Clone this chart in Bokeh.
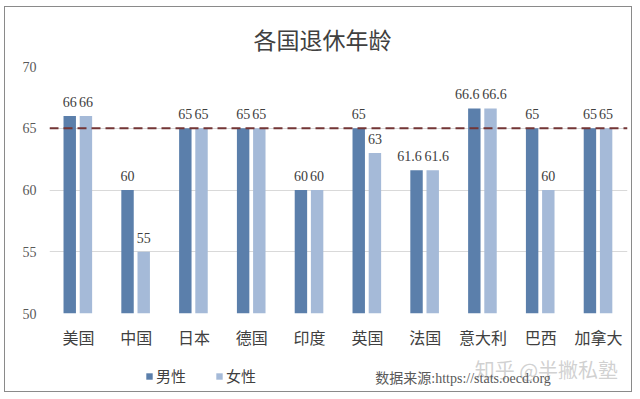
from bokeh.plotting import figure
from bokeh.layouts import column
from bokeh.models import (FactorRange, Range1d, ColumnDataSource, Span, Label, Legend,
                          LegendItem, FixedTicker)
from bokeh.transform import dodge
from bokeh.core.properties import value
from bokeh.embed import file_html
from bokeh.resources import INLINE

countries = ["美国", "中国", "日本", "德国", "印度", "英国", "法国", "意大利", "巴西", "加拿大"]
male = [66, 60, 65, 65, 60, 65, 61.6, 66.6, 65, 65]
female = [66, 55, 65, 65, 60, 63, 61.6, 66.6, 60, 65]
y_ticks = [50, 55, 60, 65, 70]
reference_age = 65
title_text = "各国退休年龄"
series_names = ["男性", "女性"]
source_text = "数据来源:https://stats.oecd.org"
watermark_text = "知乎 @半撇私塾"

CJK = "Noto Sans CJK SC"
SERIF = "Liberation Serif"
MALE_C = "#5b7fab"
FEMALE_C = "#a5bad8"
TXT = "#404040"
BORDER = "1px solid #8a8a8a"

ml = [f"{v:g}" for v in male]
fl = [f"{v:g}" for v in female]
m_off = [-7 if (a == b and len(s) > 2) else 0 for a, b, s in zip(male, female, ml)]
f_off = [4 if (a == b and len(s) > 2) else 0 for a, b, s in zip(male, female, fl)]
src = ColumnDataSource(dict(c=countries, m=male, f=female, ml=ml, fl=fl, mo=m_off, fo=f_off))

WIDTH = 628
p = figure(width=WIDTH, height=346, x_range=FactorRange(*countries), y_range=(50, 70),
           output_backend="svg", toolbar_location=None)
p.min_border_left = 44
p.min_border_right = 6
p.min_border_top = 59
p.min_border_bottom = 40
p.outline_line_color = None
p.background_fill_color = "white"
p.border_fill_color = "white"
p.styles = {"border-left": BORDER, "border-right": BORDER, "border-top": BORDER,
            "box-sizing": "border-box"}

p.title.text = title_text
p.title.align = "left"
p.title.text_font = CJK
p.title.text_font_size = "23px"
p.title.text_font_style = "normal"
p.title.text_color = TXT
p.title.offset = 204
p.title.standoff = 21

p.xgrid.grid_line_color = None
p.ygrid.grid_line_color = "#d9d9d9"
p.ygrid.grid_line_width = 1
p.yaxis.ticker = FixedTicker(ticks=y_ticks)

for ax in (p.xaxis, p.yaxis):
    ax.axis_line_color = None
    ax.major_tick_line_color = None
    ax.minor_tick_line_color = None
    ax.major_tick_out = 0
    ax.major_tick_in = 0
p.yaxis.major_label_text_font = SERIF
p.yaxis.major_label_text_font_size = "14px"
p.yaxis.major_label_text_color = "#595959"
p.yaxis.major_label_standoff = 13
p.xaxis.major_label_text_font = CJK
p.xaxis.major_label_text_font_size = "16px"
p.xaxis.major_label_text_color = TXT
p.xaxis.major_label_standoff = 11

W = 0.215
MO, FO = -0.15, 0.13
p.vbar(x=dodge("c", MO, range=p.x_range), top="m", bottom=50, width=W, source=src,
       fill_color=MALE_C, line_color=None)
p.vbar(x=dodge("c", FO, range=p.x_range), top="f", bottom=50, width=W, source=src,
       fill_color=FEMALE_C, line_color=None)

p.text(x=dodge("c", MO, range=p.x_range), y="m", text="ml", source=src, x_offset="mo",
       text_align="center", text_baseline="bottom", y_offset=-9,
       text_font=value(SERIF), text_font_size="14px", text_color=TXT)
p.text(x=dodge("c", FO, range=p.x_range), y="f", text="fl", source=src, x_offset="fo",
       text_align="center", text_baseline="bottom", y_offset=-9,
       text_font=value(SERIF), text_font_size="14px", text_color=TXT)

p.add_layout(Span(location=reference_age, dimension="width", line_color="#733535",
                  line_width=2, line_dash="9 5"))

# footer strip: legend + source note
FH = 40
f = figure(width=WIDTH, height=FH, x_range=Range1d(0, WIDTH), y_range=Range1d(0, FH),
           x_axis_location=None, y_axis_location=None,
           output_backend="svg", toolbar_location=None)
f.min_border_left = f.min_border_right = f.min_border_top = f.min_border_bottom = 0
f.grid.visible = False
f.outline_line_color = None
f.background_fill_color = "white"
f.border_fill_color = "white"
f.styles = {"border-left": BORDER, "border-right": BORDER, "border-bottom": BORDER,
            "box-sizing": "border-box"}

nan = float("nan")
dm = f.vbar(x=[nan], top=[nan], width=1, fill_color=MALE_C, line_color=None)
df = f.vbar(x=[nan], top=[nan], width=1, fill_color=FEMALE_C, line_color=None)
legend = Legend(items=[LegendItem(label=series_names[0], renderers=[dm]),
                       LegendItem(label=series_names[1], renderers=[df])],
                orientation="horizontal", location=(96, 6),
                glyph_width=8, glyph_height=8, label_standoff=3, spacing=29,
                padding=0, margin=0, border_line_color=None, background_fill_alpha=0,
                label_text_font=CJK, label_text_font_size="15px", label_text_color=TXT)
f.add_layout(legend, "center")

f.add_layout(Label(x=462, y=23, text=watermark_text, text_align="left",
                   text_baseline="middle", text_font=CJK, text_font_size="20px",
                   text_color="#bdbdbd", text_alpha=0.7))
f.add_layout(Label(x=354, y=14, text=source_text, text_align="left",
                   text_baseline="middle", text_font=f"{SERIF}, {CJK}",
                   text_font_size="14px", text_color="#595959"))

layout = column(p, f, spacing=0)
layout.styles = {"margin-left": "4px", "margin-top": "6px"}

open("out.html", "w").write(file_html(layout, INLINE))
